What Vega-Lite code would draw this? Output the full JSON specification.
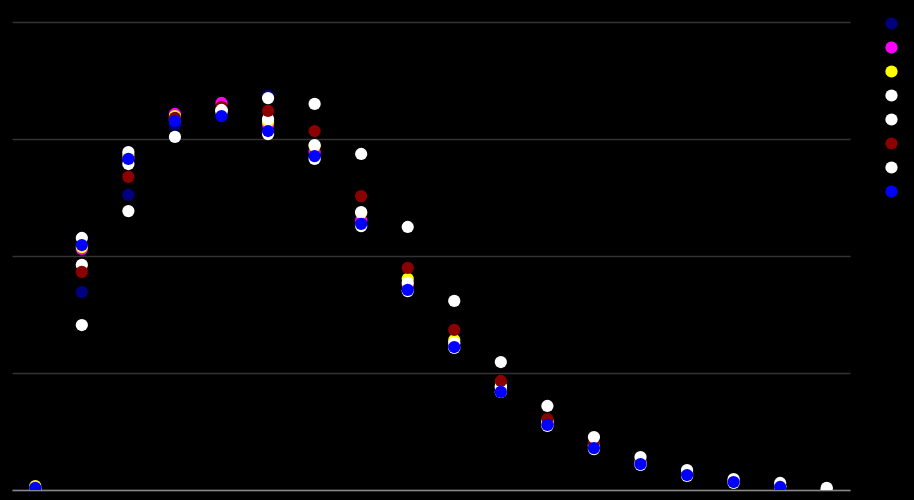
{
  "$schema": "https://vega.github.io/schema/vega-lite/v6.json",
  "width": 838,
  "height": 468,
  "autosize": {"type": "none"},
  "padding": {"left": 12, "top": 22, "right": 64, "bottom": 10},
  "background": "#000000",
  "config": {
    "view": {"stroke": null},
    "axis": {"labels": false, "ticks": false, "title": null}
  },
  "datasets": {
    "pts": [
      {"x":0,"s":"s1","v":0.04},{"x":1,"s":"s1","v":8.46},{"x":2,"s":"s1","v":12.61},{"x":3,"s":"s1","v":15.60},{"x":4,"s":"s1","v":16.07},{"x":5,"s":"s1","v":16.84},{"x":6,"s":"s1","v":14.53},{"x":7,"s":"s1","v":11.28},{"x":8,"s":"s1","v":8.55},{"x":9,"s":"s1","v":6.11},{"x":10,"s":"s1","v":4.19},{"x":11,"s":"s1","v":2.78},{"x":12,"s":"s1","v":1.79},{"x":13,"s":"s1","v":1.11},{"x":14,"s":"s1","v":0.64},{"x":15,"s":"s1","v":0.34},{"x":16,"s":"s1","v":0.13},{"x":17,"s":"s1","v":0.00},
      {"x":0,"s":"s2","v":0.04},{"x":1,"s":"s2","v":10.30},{"x":2,"s":"s2","v":14.19},{"x":3,"s":"s2","v":16.07},{"x":4,"s":"s2","v":16.54},{"x":5,"s":"s2","v":15.60},{"x":6,"s":"s2","v":14.44},{"x":7,"s":"s2","v":11.54},{"x":8,"s":"s2","v":8.76},{"x":9,"s":"s2","v":6.28},{"x":10,"s":"s2","v":4.32},{"x":11,"s":"s2","v":2.86},{"x":12,"s":"s2","v":1.84},{"x":13,"s":"s2","v":1.15},{"x":14,"s":"s2","v":0.68},{"x":15,"s":"s2","v":0.38},{"x":16,"s":"s2","v":0.17},{"x":17,"s":"s2","v":0.00},
      {"x":0,"s":"s3","v":0.17},{"x":1,"s":"s3","v":10.38},{"x":2,"s":"s3","v":14.32},{"x":3,"s":"s3","v":15.98},{"x":4,"s":"s3","v":16.24},{"x":5,"s":"s3","v":15.73},{"x":6,"s":"s3","v":14.70},{"x":7,"s":"s3","v":11.84},{"x":8,"s":"s3","v":9.02},{"x":9,"s":"s3","v":6.41},{"x":10,"s":"s3","v":4.44},{"x":11,"s":"s3","v":2.95},{"x":12,"s":"s3","v":1.92},{"x":13,"s":"s3","v":1.20},{"x":14,"s":"s3","v":0.73},{"x":15,"s":"s3","v":0.38},{"x":16,"s":"s3","v":0.17},{"x":17,"s":"s3","v":0.00},
      {"x":0,"s":"s4","v":0.04},{"x":1,"s":"s4","v":10.77},{"x":2,"s":"s4","v":14.44},{"x":3,"s":"s4","v":15.90},{"x":4,"s":"s4","v":16.24},{"x":5,"s":"s4","v":15.85},{"x":6,"s":"s4","v":14.74},{"x":7,"s":"s4","v":11.88},{"x":8,"s":"s4","v":8.85},{"x":9,"s":"s4","v":6.28},{"x":10,"s":"s4","v":4.40},{"x":11,"s":"s4","v":2.91},{"x":12,"s":"s4","v":1.88},{"x":13,"s":"s4","v":1.15},{"x":14,"s":"s4","v":0.68},{"x":15,"s":"s4","v":0.38},{"x":16,"s":"s4","v":0.17},{"x":17,"s":"s4","v":0.00},
      {"x":0,"s":"s5","v":0.04},{"x":1,"s":"s5","v":9.62},{"x":2,"s":"s5","v":13.93},{"x":3,"s":"s5","v":15.81},{"x":4,"s":"s5","v":16.15},{"x":5,"s":"s5","v":15.21},{"x":6,"s":"s5","v":14.15},{"x":7,"s":"s5","v":11.28},{"x":8,"s":"s5","v":8.50},{"x":9,"s":"s5","v":6.07},{"x":10,"s":"s5","v":4.19},{"x":11,"s":"s5","v":2.74},{"x":12,"s":"s5","v":1.75},{"x":13,"s":"s5","v":1.07},{"x":14,"s":"s5","v":0.60},{"x":15,"s":"s5","v":0.30},{"x":16,"s":"s5","v":0.13},{"x":17,"s":"s5","v":0.00},
      {"x":0,"s":"s6","v":0.04},{"x":1,"s":"s6","v":9.32},{"x":2,"s":"s6","v":13.38},{"x":3,"s":"s6","v":15.90},{"x":4,"s":"s6","v":16.37},{"x":5,"s":"s6","v":16.20},{"x":6,"s":"s6","v":15.34},{"x":7,"s":"s6","v":12.56},{"x":8,"s":"s6","v":9.49},{"x":9,"s":"s6","v":6.84},{"x":10,"s":"s6","v":4.66},{"x":11,"s":"s6","v":3.03},{"x":12,"s":"s6","v":2.01},{"x":13,"s":"s6","v":1.24},{"x":14,"s":"s6","v":0.77},{"x":15,"s":"s6","v":0.43},{"x":16,"s":"s6","v":0.21},{"x":17,"s":"s6","v":0.00},
      {"x":0,"s":"s7","v":0.00},{"x":1,"s":"s7","v":7.05},{"x":2,"s":"s7","v":11.92},{"x":3,"s":"s7","v":15.09},{"x":4,"s":"s7","v":16.24},{"x":5,"s":"s7","v":16.75},{"x":6,"s":"s7","v":16.50},{"x":7,"s":"s7","v":14.36},{"x":8,"s":"s7","v":11.24},{"x":9,"s":"s7","v":8.08},{"x":10,"s":"s7","v":5.47},{"x":11,"s":"s7","v":3.59},{"x":12,"s":"s7","v":2.26},{"x":13,"s":"s7","v":1.41},{"x":14,"s":"s7","v":0.85},{"x":15,"s":"s7","v":0.47},{"x":16,"s":"s7","v":0.30},{"x":17,"s":"s7","v":0.09},
      {"x":0,"s":"s8","v":0.09},{"x":1,"s":"s8","v":10.47},{"x":2,"s":"s8","v":14.15},{"x":3,"s":"s8","v":15.77},{"x":4,"s":"s8","v":15.98},{"x":5,"s":"s8","v":15.34},{"x":6,"s":"s8","v":14.27},{"x":7,"s":"s8","v":11.37},{"x":8,"s":"s8","v":8.55},{"x":9,"s":"s8","v":6.11},{"x":10,"s":"s8","v":4.19},{"x":11,"s":"s8","v":2.78},{"x":12,"s":"s8","v":1.79},{"x":13,"s":"s8","v":1.11},{"x":14,"s":"s8","v":0.64},{"x":15,"s":"s8","v":0.34},{"x":16,"s":"s8","v":0.13}
    ]
  },
  "data": {"name": "pts"},
  "mark": {"type": "circle", "size": 150, "opacity": 1, "clip": true},
  "encoding": {
    "x": {
      "field": "x", "type": "ordinal",
      "scale": {"type": "point", "padding": 0.5},
      "axis": {"grid": false, "domain": true, "domainColor": "#888888", "domainWidth": 1.5}
    },
    "y": {
      "field": "v", "type": "quantitative",
      "scale": {"domain": [0, 20], "nice": false, "zero": true},
      "axis": {"grid": true, "gridColor": "#333333", "gridWidth": 1.5, "domain": false, "values": [0, 5, 10, 15, 20]}
    },
    "color": {
      "field": "s", "type": "nominal",
      "scale": {
        "domain": ["s1","s2","s3","s4","s5","s6","s7","s8"],
        "range": ["#000080","#ff00ff","#ffff00","#ffffff","#ffffff","#8b0000","#ffffff","#0000ff"]
      },
      "legend": {
        "orient": "none", "legendX": 873, "legendY": -5,
        "title": null, "padding": 0, "rowPadding": 11,
        "symbolType": "circle", "symbolSize": 150, "symbolOpacity": 1, "symbolStrokeWidth": 0,
        "labelColor": "#000000", "labelFontSize": 10
      }
    }
  }
}
